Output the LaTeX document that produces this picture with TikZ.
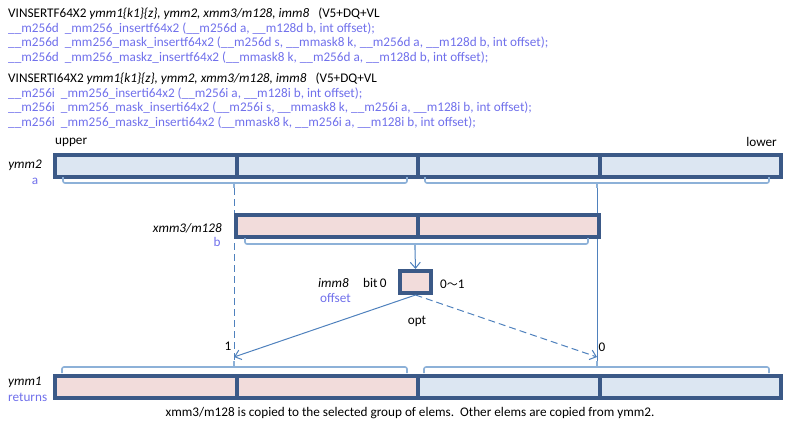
\documentclass[tikz,border=0pt]{standalone}
\usepackage{fontspec}
\setmainfont{Carlito}
\newfontfamily\cjk{Noto Sans CJK JP}
\usetikzlibrary{arrows.meta,positioning}
\definecolor{boxedge}{RGB}{59,89,135}
\definecolor{ylane}{RGB}{220,230,242}
\definecolor{xlane}{RGB}{242,220,219}
\definecolor{brkcol}{RGB}{141,177,216}
\definecolor{flow}{RGB}{79,129,189}
\definecolor{intr}{RGB}{112,112,235}
\tikzset{
>={Straight Barb[length=6pt,width=10pt]}, % open arrow heads
lane/.style={draw=boxedge, line width=4pt, minimum width=181.5pt, minimum height=22pt, inner sep=0pt, anchor=north west},
hdr/.style={anchor=west, inner sep=0pt, font=\fontsize{13.2}{15}\selectfont},
fn/.style={hdr, text=intr},
lbl/.style={inner sep=0pt, font=\fontsize{13.2}{15}\selectfont},
brace/.style={draw=brkcol, line width=1.6pt, rounded corners=2pt},
flowline/.style={draw=flow, line width=1pt},
longdash/.style={dash pattern=on 7pt off 4pt},
}
\begin{document}
\begin{tikzpicture}[x=1pt, y=-1pt]
    \useasboundingbox (0,0) rectangle (786,432);
    % instruction / intrinsic header
    \node[hdr] (h1) at (8,14) {VINSERTF64X2 \textit{ymm1\{k1\}\{z\}, ymm2, xmm3/m128, imm8}\ \ \ (V5+DQ+VL};
    \node[fn] (h2) at (8,28.5) {\_\_m256d\ \ \_mm256\_insertf64x2 (\_\_m256d a, \_\_m128d\ b, int offset);};
    \node[fn] (h3) at (8,43) {\_\_m256d\ \ \_mm256\_mask\_insertf64x2 (\_\_m256d s, \_\_mmask8 k, \_\_m256d a, \_\_m128d b, int offset);};
    \node[fn] (h4) at (8,57.5) {\_\_m256d\ \ \_mm256\_maskz\_insertf64x2 (\_\_mmask8 k, \_\_m256d\ a, \_\_m128d b, int offset);};
    \node[hdr] (h5) at (8,79) {VINSERTI64X2 \textit{ymm1\{k1\}\{z\}, ymm2, xmm3/m128, imm8}\ \ \ (V5+DQ+VL};
    \node[fn] (h6) at (8,93.5) {\_\_m256i\ \ \_mm256\_inserti64x2 (\_\_m256i a, \_\_m128i b, int offset);};
    \node[fn] (h7) at (8,108) {\_\_m256i\ \ \_mm256\_mask\_inserti64x2 (\_\_m256i s, \_\_mmask8 k, \_\_m256i a, \_\_m128i b, int offset);};
    \node[fn] (h8) at (8,122.5) {\_\_m256i\ \ \_mm256\_maskz\_inserti64x2 (\_\_mmask8 k, \_\_m256i a, \_\_m128i b, int offset);};

    \node[lbl, anchor=west] (upper) at (55,142) {upper};
    \node[lbl, anchor=east] (lower) at (777,142) {lower};

    % tips of the braces
    \coordinate (a-hi) at (234,188);
    \coordinate (a-lo) at (597,188);
    \coordinate (b-mid) at (415,250);
    \coordinate (r-hi) at (234,357);
    \coordinate (r-lo) at (597,357);
    \coordinate (r-hi-bar) at (234,367);
    \coordinate (r-lo-bar) at (597,367);

    % lanes run down from ymm2 to ymm1
    \draw[flowline, longdash] (a-hi) -- (r-hi-bar);
    \draw[flowline] (a-lo) -- (r-lo-bar);

    % ymm2
    \node[lane, fill=ylane] (a3) at (53,153) {};
    \node[lane, fill=ylane] (a2) at (234.5,153) {};
    \node[lane, fill=ylane] (a1) at (416,153) {};
    \node[lane, fill=ylane] (a0) at (597.5,153) {};
    \node[lbl, anchor=east] (ymm2) at (42,165) {\textit{ymm2}};
    \node[lbl, text=intr] (a) at (35,181) {a};
    \draw[brace] (63,177) -- (63,183) -- (407,183) -- (407,177);
    \draw[brace] (425,177) -- (425,183) -- (769,183) -- (769,177);
    \draw[brace] (234,183) -- (a-hi);
    \draw[brace] (597,183) -- (a-lo);

    % xmm3/m128
    \node[lane, fill=xlane] (b1) at (234,213) {};
    \node[lane, fill=xlane] (b0) at (415.5,213) {};
    \node[lbl, anchor=east] (xmm3) at (222,228) {\textit{xmm3/m128}};
    \node[lbl, text=intr] (b) at (217,242) {b};
    \draw[brace] (245,238) -- (245,244) -- (588,244) -- (588,238);
    \draw[brace] (415,244) -- (b-mid);

    % imm8
    \node[draw=boxedge, line width=4pt, fill=xlane, minimum width=31pt, minimum height=22pt, inner sep=0pt] (imm) at (415.5,282) {};
    \node[lbl, anchor=east] (imm8) at (349,283) {\textit{imm8}};
    \node[lbl, anchor=west] (bit) at (363,283) {bit\,0};
    \node[lbl, anchor=west, text=intr] (offset) at (320,298) {offset};
    \node[lbl, anchor=west] (range) at (440,284) {0{\cjk\fontsize{11}{13}\selectfont 〜}1};
    \node[lbl] (opt) at (417,321) {opt};
    \draw[flowline, ->] (b-mid) -- (imm.north);
    \draw[flowline, ->] (imm.south) -- (r-hi);
    \draw[flowline, longdash, ->] (imm.south) -- (r-lo);
    \node[lbl] (one) at (228,346) {1};
    \node[lbl] (zero) at (602,347) {0};

    % ymm1
    \draw[brace] (62,373) -- (62,367) -- (407,367) -- (407,373);
    \draw[brace] (424,373) -- (424,367) -- (769,367) -- (769,373);
    \draw[brace] (r-hi-bar) -- (234,361);
    \draw[brace] (r-lo-bar) -- (597,361);
    \node[lane, fill=xlane] (r3) at (53,373.5) {};
    \node[lane, fill=xlane] (r2) at (234.5,373.5) {};
    \node[lane, fill=ylane] (r1) at (416,373.5) {};
    \node[lane, fill=ylane] (r0) at (597.5,373.5) {};
    \node[lbl, anchor=west] (ymm1) at (8,382) {\textit{ymm1}};
    \node[lbl, anchor=west, text=intr] (returns) at (8,397) {returns};

    \node[lbl] (caption) at (410,413) {xmm3/m128 is copied to the selected group of elems.\ \ Other elems are copied from ymm2.};
\end{tikzpicture}
\end{document}
